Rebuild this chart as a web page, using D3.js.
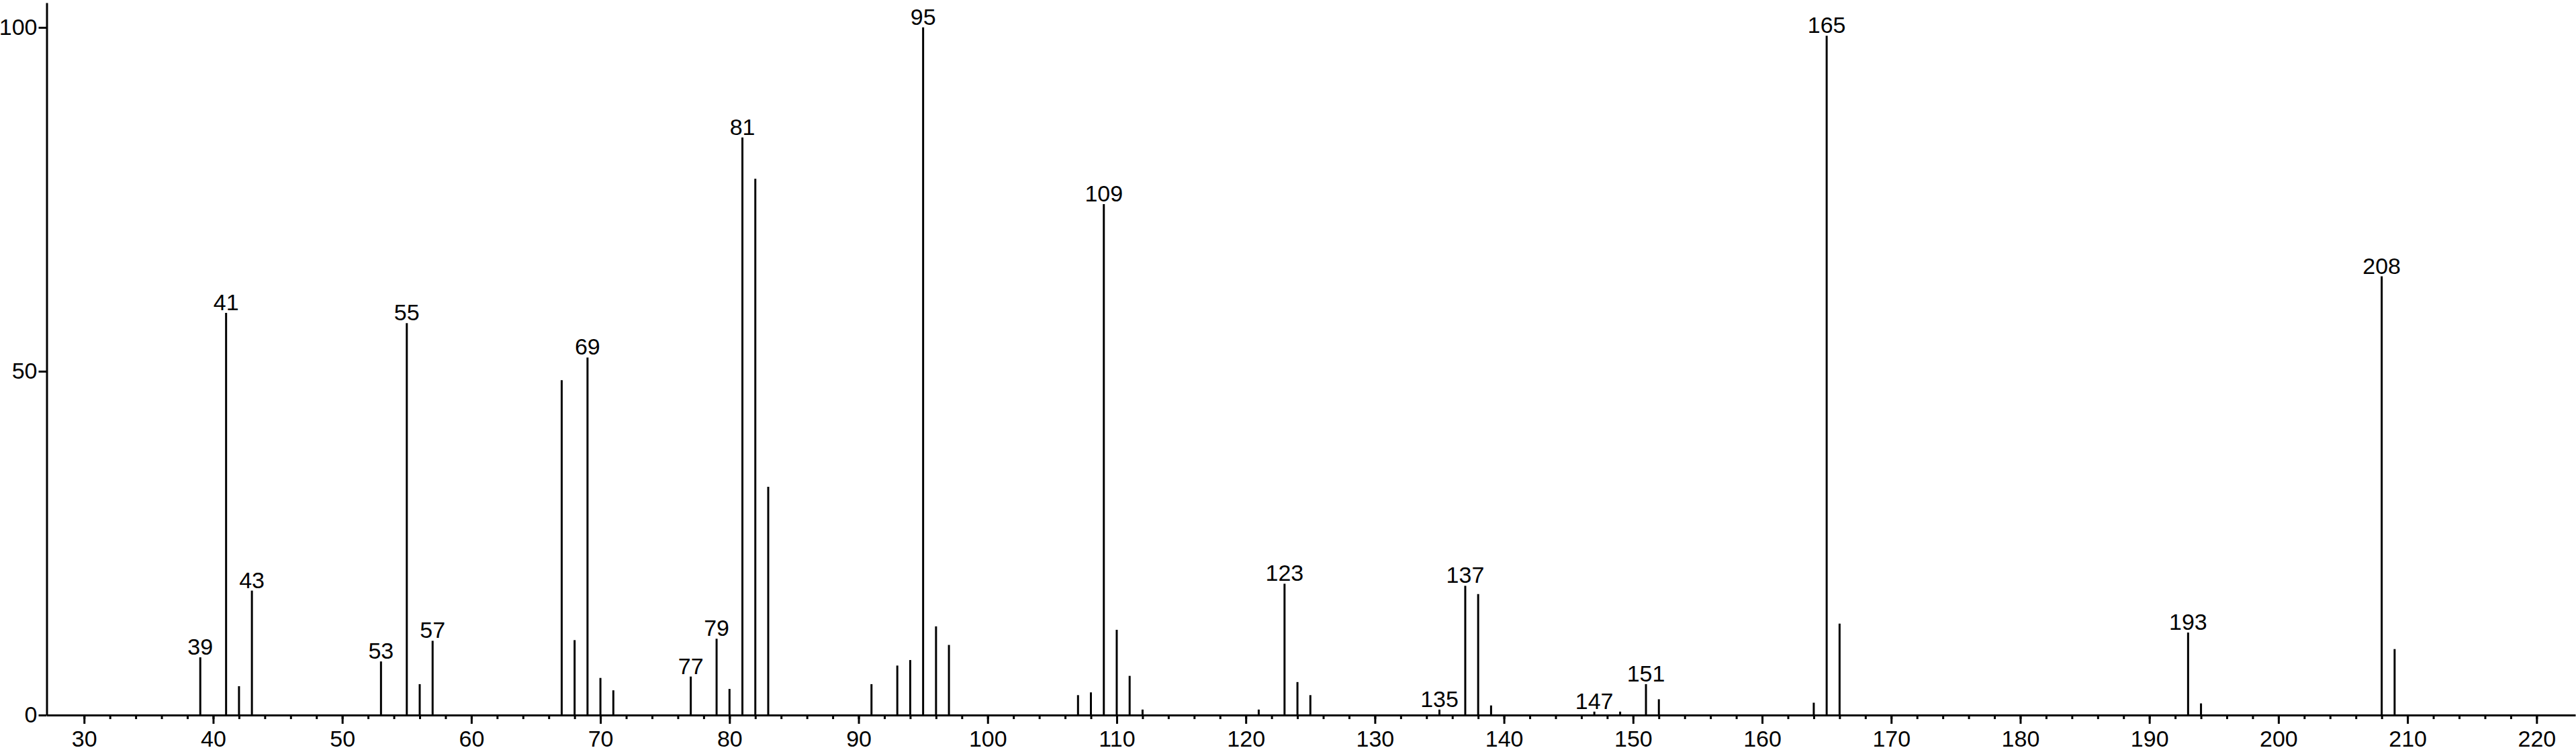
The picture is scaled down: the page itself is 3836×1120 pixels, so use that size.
<!DOCTYPE html>
<html>
<head>
<meta charset="utf-8">
<script src="https://cdn.jsdelivr.net/npm/d3@7"></script>
<style>
  html, body { margin: 0; padding: 0; background: #fff; }
  svg { display: block; }
  text { font-family: "Liberation Sans", Arial, Helvetica, sans-serif; fill: #000; }
</style>
</head>
<body>
<svg id="chart" width="3836" height="1120"></svg>
<script>
// m/z values of the peaks
const mz = [39, 41, 42, 43, 53, 55, 56, 57, 67, 68, 69, 70, 71, 77, 79, 80, 81, 82, 83,
            91, 93, 94, 95, 96, 97, 107, 108, 109, 110, 111, 112, 121, 123, 124, 125,
            135, 137, 138, 139, 147, 149, 151, 152, 164, 165, 166, 193, 194, 208, 209];
// relative intensities (%)
const intensity = [8.4, 58.5, 4.2, 18.1, 7.8, 57.0, 4.5, 10.8, 48.7, 10.9, 52.0, 5.4, 3.6, 5.6, 11.1, 3.8, 84.0, 78.0, 33.2,
                   4.5, 7.2, 8.0, 100, 12.9, 10.2, 2.9, 3.3, 74.3, 12.4, 5.7, 0.8, 0.8, 19.1, 4.8, 2.9,
                   0.8, 18.8, 17.6, 1.4, 0.5, 0.5, 4.5, 2.3, 1.8, 98.8, 13.3, 12.0, 1.7, 63.8, 9.6];
// peaks that carry a label
const labeledPeaks = [39, 41, 43, 53, 55, 57, 69, 77, 79, 81, 95, 109, 123, 135, 137, 147, 151, 165, 193, 208];
// axis ticks
const xMajorTicks = d3.range(30, 221, 10);
const xMinorTicks = d3.range(30, 221, 2);
const yTicks = [0, 50, 100];

const peaks = mz.map((m, i) => ({ m, v: intensity[i] }));

const svg = d3.select("#chart");
const x = d3.scaleLinear().domain([27.1, 223]).range([69.5, 3835]);
const y = d3.scaleLinear().domain([0, 103.6]).range([1065, 4]);

const FONT = 34;

// x axis: minor ticks
const gMinor = svg.append("g").attr("transform", `translate(0,${y(0)})`)
  .call(d3.axisBottom(x).tickValues(xMinorTicks).tickSize(6).tickSizeOuter(0).tickFormat(""));
gMinor.select(".domain").attr("stroke", "#000").attr("stroke-width", 3);
gMinor.selectAll(".tick line").attr("stroke", "#000").attr("stroke-width", 3);

// x axis: major ticks with labels
const gMajor = svg.append("g").attr("transform", `translate(0,${y(0)})`)
  .call(d3.axisBottom(x).tickValues(xMajorTicks).tickSize(13).tickSizeOuter(0).tickPadding(10).tickFormat(d3.format("d")));
gMajor.select(".domain").remove();
gMajor.selectAll(".tick line").attr("stroke", "#000").attr("stroke-width", 3);
gMajor.selectAll(".tick text").attr("font-size", FONT)
  .attr("font-family", '"Liberation Sans", Arial, sans-serif').attr("fill", "#000");

// y axis
const gY = svg.append("g").attr("transform", `translate(${x.range()[0]},0)`)
  .call(d3.axisLeft(y).tickValues(yTicks).tickSize(12).tickSizeOuter(0).tickPadding(2).tickFormat(d3.format("d")));
gY.select(".domain").attr("stroke", "#000").attr("stroke-width", 3);
gY.selectAll(".tick line").attr("stroke", "#000").attr("stroke-width", 3);
gY.selectAll(".tick text").attr("font-size", FONT)
  .attr("font-family", '"Liberation Sans", Arial, sans-serif').attr("fill", "#000");

// peaks (sticks)
svg.append("g").selectAll("line").data(peaks).join("line")
  .attr("x1", d => x(d.m)).attr("x2", d => x(d.m))
  .attr("y1", y(0)).attr("y2", d => y(d.v))
  .attr("stroke", "#000").attr("stroke-width", 3);

// peak labels
svg.append("g").selectAll("text").data(peaks.filter(d => labeledPeaks.includes(d.m))).join("text")
  .attr("x", d => x(d.m)).attr("y", d => y(d.v) - 4)
  .attr("text-anchor", "middle").attr("font-size", FONT)
  .text(d => d.m);
</script>
</body>
</html>
